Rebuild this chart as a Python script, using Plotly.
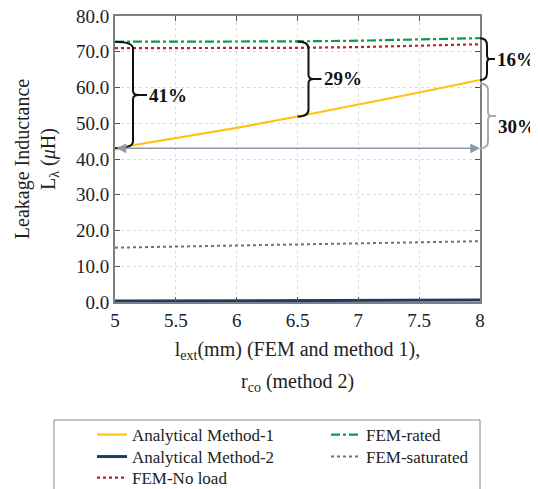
import plotly.graph_objects as go

# ---- data ----
x_vals = [5.0, 5.5, 6.0, 6.5, 7.0, 7.5, 8.0]
method1 = [43.0, 45.8, 48.7, 51.9, 55.2, 58.6, 62.1]
method2 = [0.25, 0.3, 0.35, 0.4, 0.45, 0.5, 0.55]
fem_noload = [71.0, 71.0, 71.0, 71.1, 71.3, 71.7, 72.1]
fem_rated = [72.8, 72.8, 72.8, 72.9, 73.1, 73.4, 73.8]
fem_sat = [15.2, 15.5, 15.8, 16.1, 16.4, 16.7, 17.0]
y_ticks = [0, 10, 20, 30, 40, 50, 60, 70, 80]
x_ticks = [5, 5.5, 6, 6.5, 7, 7.5, 8]
pct_labels = ["41%", "29%", "16%", "30%"]

SERIF = "Liberation Serif"
X_MIN, X_MAX = x_ticks[0], x_ticks[-1]
PLOT_W, PLOT_H = 365.0, 286.0

# legend slots: (legend id, column x offset px from plot left, row offset px below plot bottom)
legend_slots = {
    "legend": (-23, 133),
    "legend2": (-23, 155),
    "legend3": (-23, 176),
    "legend4": (211, 133),
    "legend5": (211, 155),
}

fig = go.Figure()
fig.add_trace(go.Scatter(x=x_vals, y=method1, mode="lines", name="Analytical Method-1",
                         line=dict(color="#FFC20E", width=2.2), legend="legend"))
fig.add_trace(go.Scatter(x=x_vals, y=method2, mode="lines", name="Analytical Method-2",
                         line=dict(color="#1F3A6E", width=3), legend="legend2"))
fig.add_trace(go.Scatter(x=x_vals, y=fem_noload, mode="lines", name="FEM-No load",
                         line=dict(color="#B8232B", width=2.2, dash="dot"), legend="legend3"))
fig.add_trace(go.Scatter(x=x_vals, y=fem_rated, mode="lines", name="FEM-rated",
                         line=dict(color="#0A9A48", width=2.2, dash="dashdot"), legend="legend4"))
fig.add_trace(go.Scatter(x=x_vals, y=fem_sat, mode="lines", name="FEM-saturated",
                         line=dict(color="#5F7878", width=2, dash="dot"), legend="legend5"))


def to_paper(x, px=0.0):
    return (x - X_MIN) / (X_MAX - X_MIN) + px / PLOT_W


PX_Y = 80.0 / PLOT_H


def brace(x0, yt, yb, dv, dt, color):
    p0 = to_paper(x0)
    pv = to_paper(x0, dv)
    pt = to_paper(x0, dt)
    pm = pv + (pt - pv) * 0.4
    r = 7 * PX_Y
    ym = (yt + yb) / 2
    path = (f"M {p0},{yt} Q {pv},{yt} {pv},{yt - r} "
            f"L {pv},{ym + r * 0.6} Q {pv},{ym} {pm},{ym} L {pt},{ym} "
            f"M {pm},{ym} Q {pv},{ym} {pv},{ym - r * 0.6} "
            f"L {pv},{yb + r} Q {pv},{yb} {p0},{yb}")
    fig.add_shape(type="path", path=path, xref="paper", yref="y",
                  line=dict(color=color, width=2), layer="above")
    return pt, ym


specs = [
    (x_vals[0], fem_rated[0], method1[0], 18, 32, "#111111", 0),
    (x_vals[3], fem_rated[3], method1[3], 11, 24, "#111111", 0),
    (x_vals[-1], fem_rated[-1], method1[-1], 7, 15, "#111111", 0),
    (x_vals[-1], method1[-1] - 1.0, method1[0], 8, 16, "#AAAAAA", -11),
]
for (x0, yt, yb, dv, dt, col, ysh), lab in zip(specs, pct_labels):
    pt, ym = brace(x0, yt, yb, dv, dt, col)
    fig.add_annotation(x=pt, y=ym, xref="paper", yref="y", text=f"<b>{lab}</b>",
                       showarrow=False, xanchor="left", yanchor="middle", xshift=0, yshift=ysh,
                       font=dict(family=SERIF, size=19, color="#111111"))

# double-headed arrow at the method-1 starting level
fig.add_annotation(x=x_vals[-1], y=method1[0], ax=x_vals[0], ay=method1[0],
                   xref="x", yref="y", axref="x", ayref="y", text="",
                   showarrow=True, arrowhead=2, startarrowhead=2, arrowside="end+start",
                   arrowsize=1.3, startarrowsize=1.3, arrowwidth=1.5, arrowcolor="#8A9AAA")

# second line of x title
fig.add_annotation(x=0.5, y=-0.283, xref="paper", yref="paper",
                   text="r<sub>co</sub> (method 2)", showarrow=False,
                   xanchor="center", yanchor="middle",
                   font=dict(family=SERIF, size=20, color="#222222"))

# legend frame
fig.add_shape(type="rect", xref="paper", yref="paper",
              x0=-61 / PLOT_W, x1=1.0, y0=-200 / PLOT_H, y1=-118 / PLOT_H,
              line=dict(color="#888888", width=1), fillcolor="rgba(0,0,0,0)", layer="above")

leg_font = dict(family=SERIF, size=17, color="#222222")
legends = {}
for lid, (cx, ry) in legend_slots.items():
    legends[lid] = dict(orientation="v", x=cx / PLOT_W, y=-ry / PLOT_H,
                        xanchor="left", yanchor="middle",
                        borderwidth=0, bgcolor="rgba(0,0,0,0)", font=leg_font)

# the page body adds an 8px margin, so the figure is 8px smaller than the window
fig.update_layout(
    width=530, height=481,
    margin=dict(l=107, r=58, t=8, b=187, autoexpand=False),
    paper_bgcolor="white", plot_bgcolor="white",
    font=dict(family=SERIF, size=19, color="#222222"),
    showlegend=True,
    **legends,
)
fig.update_xaxes(range=[X_MIN, X_MAX], tickvals=x_ticks, ticktext=[f"{v:g}" for v in x_ticks],
                 showline=True, linecolor="#7F7F7F", linewidth=1.5, mirror="ticks",
                 ticks="inside", ticklen=5, tickcolor="#555555",
                 showgrid=True, gridcolor="#DDDDDD", griddash="dot", gridwidth=1,
                 zeroline=False, ticklabeloverflow="allow",
                 tickfont=dict(family=SERIF, size=19),
                 title=dict(text="l<sub>ext</sub>(mm) (FEM and method 1),",
                            font=dict(family=SERIF, size=20), standoff=12))
fig.update_yaxes(range=[0, 80], tickvals=y_ticks, ticktext=[f"{v:.1f}" for v in y_ticks],
                 showline=True, linecolor="#7F7F7F", linewidth=2, mirror="ticks",
                 ticks="inside", ticklen=5, tickcolor="#555555",
                 showgrid=True, gridcolor="#DDDDDD", griddash="dot", gridwidth=1,
                 zeroline=False, ticklabeloverflow="allow",
                 tickfont=dict(family=SERIF, size=19),
                 title=dict(text="Leakage Inductance<br>L<sub>λ</sub> (<i>μ</i>H)",
                            font=dict(family=SERIF, size=20), standoff=15))

fig.write_html("out.html")
